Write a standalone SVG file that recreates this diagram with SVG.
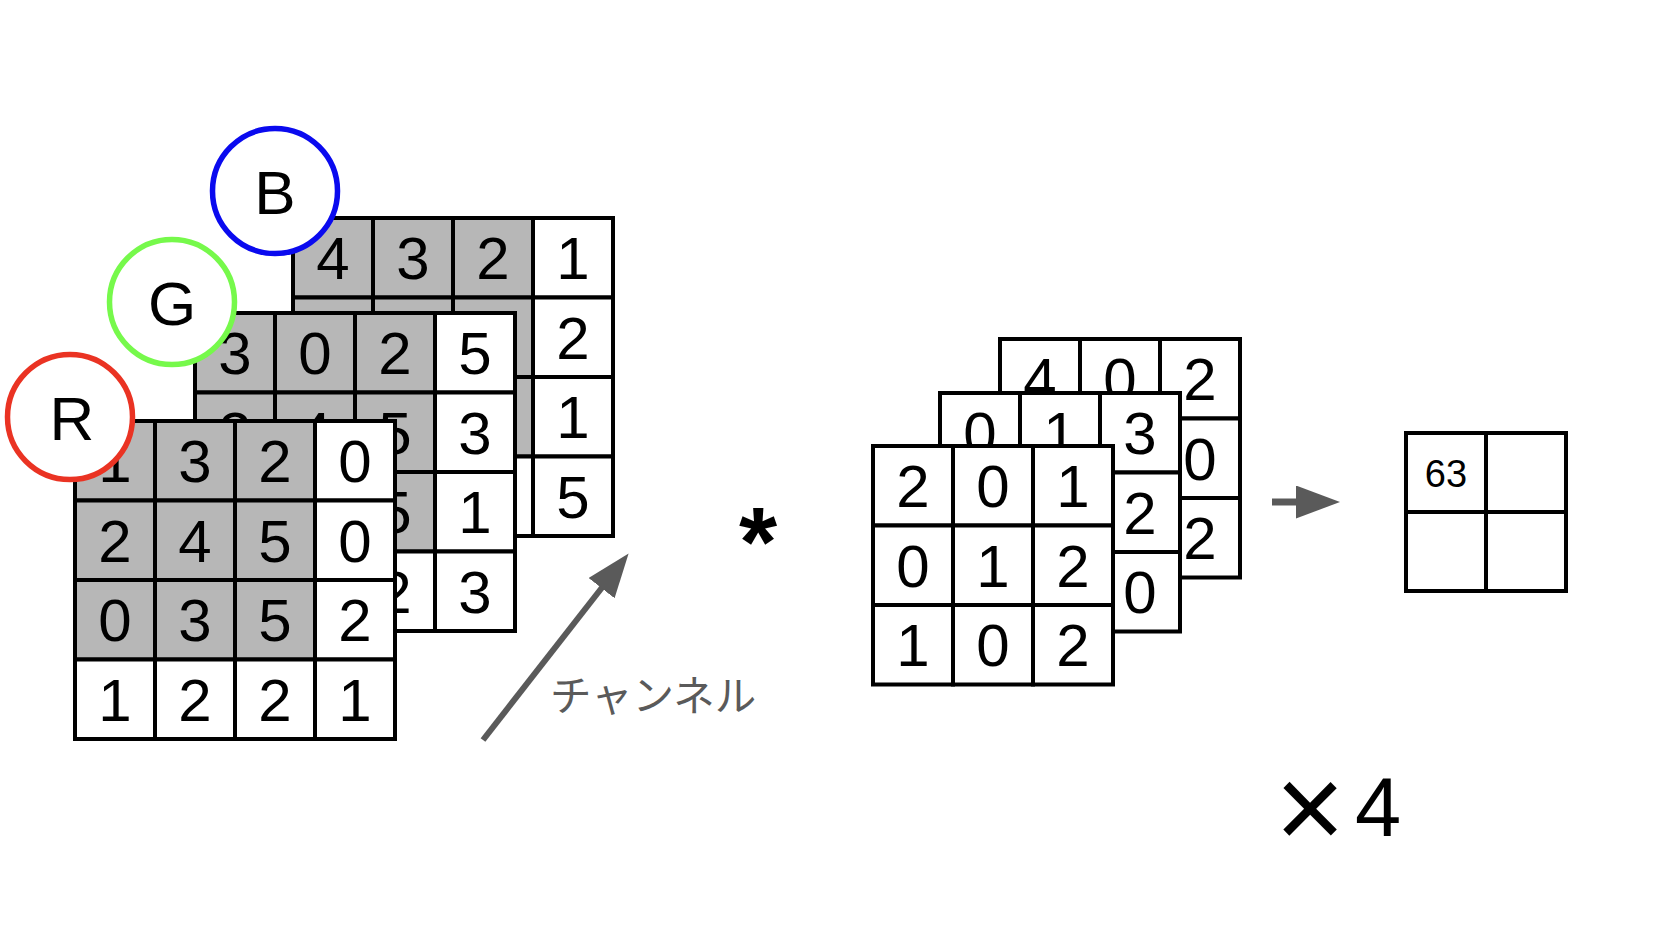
<svg xmlns="http://www.w3.org/2000/svg" width="1658" height="932" viewBox="0 0 1658 932">
<style>
.cg{fill:#b7b7b7;stroke:#000;stroke-width:4}
.cw{fill:#fff;stroke:#000;stroke-width:4}
.d{font-family:"Liberation Sans",Arial,sans-serif;font-size:60px;text-anchor:middle;fill:#000}
.lbl{font-family:"Liberation Sans",Arial,sans-serif;font-size:62px;text-anchor:middle;fill:#000}
.ring{fill:#fff;stroke-width:5.5}
.conn{stroke:#5a5a5a;fill:none}
</style>
<defs>
<marker id="ah" viewBox="0 0 44 33" markerUnits="userSpaceOnUse" markerWidth="44" markerHeight="33" refX="4" refY="16.5" orient="auto">
<path d="M0,0 L44,16.5 L0,33 z" fill="#5a5a5a"/>
</marker>
</defs>
<rect width="1658" height="932" fill="#fff"/>

<g id="grid-B">
<rect class="cg" x="293" y="218" width="80" height="79.5"/><rect class="cg" x="373" y="218" width="80" height="79.5"/><rect class="cg" x="453" y="218" width="80" height="79.5"/><rect class="cw" x="533" y="218" width="80" height="79.5"/>
<rect class="cg" x="293" y="297.5" width="80" height="79.5"/><rect class="cg" x="373" y="297.5" width="80" height="79.5"/><rect class="cg" x="453" y="297.5" width="80" height="79.5"/><rect class="cw" x="533" y="297.5" width="80" height="79.5"/>
<rect class="cg" x="293" y="377" width="80" height="79.5"/><rect class="cg" x="373" y="377" width="80" height="79.5"/><rect class="cg" x="453" y="377" width="80" height="79.5"/><rect class="cw" x="533" y="377" width="80" height="79.5"/>
<rect class="cw" x="293" y="456.5" width="80" height="79.5"/><rect class="cw" x="373" y="456.5" width="80" height="79.5"/><rect class="cw" x="453" y="456.5" width="80" height="79.5"/><rect class="cw" x="533" y="456.5" width="80" height="79.5"/>
<text class="d" x="333" y="279">4</text><text class="d" x="413" y="279">3</text><text class="d" x="493" y="279">2</text><text class="d" x="573" y="279">1</text>
<text class="d" x="573" y="359">2</text><text class="d" x="573" y="438">1</text><text class="d" x="573" y="518">5</text>
</g>
<g id="label-B">
<circle class="ring" cx="275" cy="191" r="62.5" stroke="#0a0aef"/>
<text class="lbl" x="275" y="214">B</text>
</g>

<g id="grid-G">
<rect class="cg" x="195" y="313" width="80" height="79.5"/><rect class="cg" x="275" y="313" width="80" height="79.5"/><rect class="cg" x="355" y="313" width="80" height="79.5"/><rect class="cw" x="435" y="313" width="80" height="79.5"/>
<rect class="cg" x="195" y="392.5" width="80" height="79.5"/><rect class="cg" x="275" y="392.5" width="80" height="79.5"/><rect class="cg" x="355" y="392.5" width="80" height="79.5"/><rect class="cw" x="435" y="392.5" width="80" height="79.5"/>
<rect class="cg" x="195" y="472" width="80" height="79.5"/><rect class="cg" x="275" y="472" width="80" height="79.5"/><rect class="cg" x="355" y="472" width="80" height="79.5"/><rect class="cw" x="435" y="472" width="80" height="79.5"/>
<rect class="cw" x="195" y="551.5" width="80" height="79.5"/><rect class="cw" x="275" y="551.5" width="80" height="79.5"/><rect class="cw" x="355" y="551.5" width="80" height="79.5"/><rect class="cw" x="435" y="551.5" width="80" height="79.5"/>
<text class="d" x="235" y="374">3</text><text class="d" x="315" y="374">0</text><text class="d" x="395" y="374">2</text><text class="d" x="475" y="374">5</text>
<text class="d" x="235" y="454">2</text><text class="d" x="315" y="454">4</text><text class="d" x="395" y="454">5</text><text class="d" x="475" y="454">3</text>
<text class="d" x="395" y="533">5</text><text class="d" x="475" y="533">1</text>
<text class="d" x="395" y="613">2</text><text class="d" x="475" y="613">3</text>
</g>
<g id="label-G">
<circle class="ring" cx="172" cy="302" r="62.5" stroke="#76f94b"/>
<text class="lbl" x="172" y="325">G</text>
</g>

<g id="grid-R">
<rect class="cg" x="75" y="421" width="80" height="79.5"/><rect class="cg" x="155" y="421" width="80" height="79.5"/><rect class="cg" x="235" y="421" width="80" height="79.5"/><rect class="cw" x="315" y="421" width="80" height="79.5"/>
<rect class="cg" x="75" y="500.5" width="80" height="79.5"/><rect class="cg" x="155" y="500.5" width="80" height="79.5"/><rect class="cg" x="235" y="500.5" width="80" height="79.5"/><rect class="cw" x="315" y="500.5" width="80" height="79.5"/>
<rect class="cg" x="75" y="580" width="80" height="79.5"/><rect class="cg" x="155" y="580" width="80" height="79.5"/><rect class="cg" x="235" y="580" width="80" height="79.5"/><rect class="cw" x="315" y="580" width="80" height="79.5"/>
<rect class="cw" x="75" y="659.5" width="80" height="79.5"/><rect class="cw" x="155" y="659.5" width="80" height="79.5"/><rect class="cw" x="235" y="659.5" width="80" height="79.5"/><rect class="cw" x="315" y="659.5" width="80" height="79.5"/>
<text class="d" x="115" y="482">1</text><text class="d" x="195" y="482">3</text><text class="d" x="275" y="482">2</text><text class="d" x="355" y="482">0</text>
<text class="d" x="115" y="562">2</text><text class="d" x="195" y="562">4</text><text class="d" x="275" y="562">5</text><text class="d" x="355" y="562">0</text>
<text class="d" x="115" y="641">0</text><text class="d" x="195" y="641">3</text><text class="d" x="275" y="641">5</text><text class="d" x="355" y="641">2</text>
<text class="d" x="115" y="721">1</text><text class="d" x="195" y="721">2</text><text class="d" x="275" y="721">2</text><text class="d" x="355" y="721">1</text>
</g>
<g id="label-R">
<circle class="ring" cx="70" cy="417" r="62.5" stroke="#ea3323"/>
<text class="lbl" x="72" y="440">R</text>
</g>

<g id="channel-label">
<text x="550" y="711" font-family="'Noto Sans CJK JP',sans-serif" font-size="41.5" fill="#5a5a5a">チャンネル</text>
</g>

<g id="op-conv">
<text x="758" y="576" font-family="'Liberation Sans',Arial,sans-serif" font-size="98" font-weight="bold" text-anchor="middle" fill="#000">*</text>
</g>

<g id="kernel-3">
<rect class="cw" x="1000" y="339" width="80" height="79.5"/><rect class="cw" x="1080" y="339" width="80" height="79.5"/><rect class="cw" x="1160" y="339" width="80" height="79.5"/>
<rect class="cw" x="1000" y="418.5" width="80" height="79.5"/><rect class="cw" x="1080" y="418.5" width="80" height="79.5"/><rect class="cw" x="1160" y="418.5" width="80" height="79.5"/>
<rect class="cw" x="1000" y="498" width="80" height="79.5"/><rect class="cw" x="1080" y="498" width="80" height="79.5"/><rect class="cw" x="1160" y="498" width="80" height="79.5"/>
<text class="d" x="1040" y="400">4</text><text class="d" x="1120" y="400">0</text><text class="d" x="1200" y="400">2</text>
<text class="d" x="1200" y="480">0</text><text class="d" x="1200" y="559">2</text>
</g>
<g id="kernel-2">
<rect class="cw" x="940" y="393" width="80" height="79.5"/><rect class="cw" x="1020" y="393" width="80" height="79.5"/><rect class="cw" x="1100" y="393" width="80" height="79.5"/>
<rect class="cw" x="940" y="472.5" width="80" height="79.5"/><rect class="cw" x="1020" y="472.5" width="80" height="79.5"/><rect class="cw" x="1100" y="472.5" width="80" height="79.5"/>
<rect class="cw" x="940" y="552" width="80" height="79.5"/><rect class="cw" x="1020" y="552" width="80" height="79.5"/><rect class="cw" x="1100" y="552" width="80" height="79.5"/>
<text class="d" x="980" y="454">0</text><text class="d" x="1060" y="454">1</text><text class="d" x="1140" y="454">3</text>
<text class="d" x="1140" y="534">2</text><text class="d" x="1140" y="613">0</text>
</g>
<g id="kernel-1">
<rect class="cw" x="873" y="446" width="80" height="79.5"/><rect class="cw" x="953" y="446" width="80" height="79.5"/><rect class="cw" x="1033" y="446" width="80" height="79.5"/>
<rect class="cw" x="873" y="525.5" width="80" height="79.5"/><rect class="cw" x="953" y="525.5" width="80" height="79.5"/><rect class="cw" x="1033" y="525.5" width="80" height="79.5"/>
<rect class="cw" x="873" y="605" width="80" height="79.5"/><rect class="cw" x="953" y="605" width="80" height="79.5"/><rect class="cw" x="1033" y="605" width="80" height="79.5"/>
<text class="d" x="913" y="507">2</text><text class="d" x="993" y="507">0</text><text class="d" x="1073" y="507">1</text>
<text class="d" x="913" y="587">0</text><text class="d" x="993" y="587">1</text><text class="d" x="1073" y="587">2</text>
<text class="d" x="913" y="666">1</text><text class="d" x="993" y="666">0</text><text class="d" x="1073" y="666">2</text>
</g>

<g id="output">
<rect class="cw" x="1406" y="433" width="80" height="79"/><rect class="cw" x="1486" y="433" width="80" height="79"/>
<rect class="cw" x="1406" y="512" width="80" height="79"/><rect class="cw" x="1486" y="512" width="80" height="79"/>
<text x="1446" y="487" font-family="'Liberation Sans',Arial,sans-serif" font-size="38" text-anchor="middle" fill="#000">63</text>
</g>

<g id="times-4">
<text font-family="'Liberation Sans',Arial,sans-serif" fill="#000" text-anchor="middle"><tspan x="1310" y="849" font-size="120">×</tspan><tspan x="1378" y="836" font-size="83">4</tspan></text>
</g>

<g id="connectors">
<line class="conn" x1="483" y1="740" x2="604" y2="585" stroke-width="6" marker-end="url(#ah)"/>
<line class="conn" x1="1272" y1="502" x2="1300" y2="502" stroke-width="7" marker-end="url(#ah)"/>
</g>
</svg>
